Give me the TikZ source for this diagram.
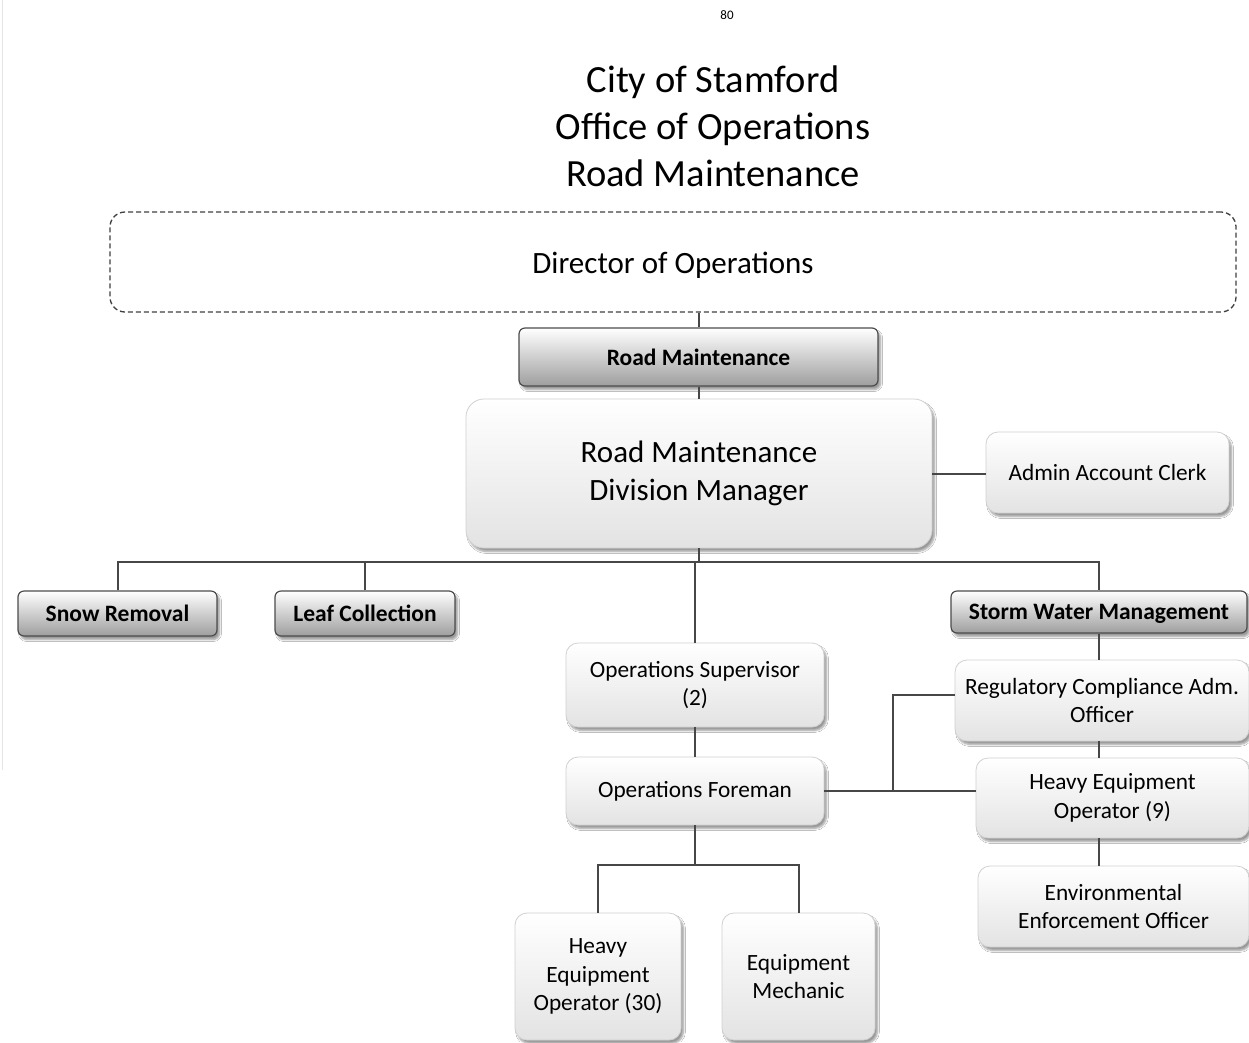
\documentclass[tikz,border=0pt]{standalone}
\usepackage{fontspec}
\setmainfont{Carlito}
\usetikzlibrary{shadows.blur,calc}
\begin{document}
\begin{tikzpicture}[x=1pt,y=-1pt,
  shad/.style={blur shadow={shadow xshift=2.5pt, shadow yshift=-3.5pt, shadow blur steps=6, shadow opacity=40}},
  hdr/.style={shad, draw=black!70, line width=1.2pt, rounded corners=6pt, top color=white, bottom color=black!38, inner sep=0pt, align=center, font=\fontsize{23.5}{28}\selectfont\bfseries},
  box/.style={shad, draw=black!18, line width=0.8pt, rounded corners=12pt, top color=white, bottom color=black!11, inner sep=0pt, align=center, font=\fontsize{23.3}{28.5}\selectfont},
  ln/.style={draw=black!72, line width=2pt}]
\useasboundingbox[fill=white] (0,0) rectangle (1249,1042);
\draw[draw=blue!8!black!10, line width=1pt] (2,0) -- (2,770);

\node (pg) at (727,15) {\fontsize{13}{15}\selectfont 80};
\node[align=center, font=\fontsize{38.5}{47}\selectfont] (title) at (713,126) {City of Stamford\\Office of Operations\\Road Maintenance};

\node[draw=black!75, dashed, dash pattern=on 5pt off 3pt, line width=1.3pt, rounded corners=15pt, minimum width=1126pt, minimum height=100pt] (dir) at (673,262) {};
\node[font=\fontsize{31}{37}\selectfont] (dirt) at (673,265) {Director of Operations};

\node[hdr, minimum width=359pt, minimum height=58pt] (rm) at (698.5,357) {Road Maintenance};
\node[box, rounded corners=18pt, minimum width=466pt, minimum height=149pt, font=\fontsize{31}{38}\selectfont] (dm) at (699,473.5) {Road Maintenance\\Division Manager};
\node[box, minimum width=243pt, minimum height=81pt] (clerk) at (1107.5,472.5) {Admin Account Clerk};

\node[hdr, minimum width=199pt, minimum height=45pt] (snow) at (117.5,613.5) {Snow Removal};
\node[hdr, minimum width=180pt, minimum height=45pt] (leaf) at (365,613.5) {Leaf Collection};
\node[hdr, minimum width=296pt, minimum height=42pt, text depth=0pt] (swm) at (1099,612) {Storm Water Management};

\node[box, minimum width=258pt, minimum height=84pt] (sup) at (695,685) {Operations Supervisor\\(2)};
\node[box, minimum width=258pt, minimum height=68pt] (fore) at (695,791) {Operations Foreman};

\node[box, minimum width=294pt, minimum height=81pt] (rc) at (1102,700.5) {Regulatory Compliance Adm.\\Officer};
\node[box, minimum width=273pt, minimum height=80pt] (heo9) at (1112.5,798) {Heavy Equipment\\Operator (9)};
\node[box, minimum width=271pt, minimum height=81pt] (eeo) at (1113.5,906.5) {Environmental\\Enforcement Officer};

\node[box, minimum width=166pt, minimum height=127pt] (heo30) at (598,976.5) {Heavy\\Equipment\\Operator (30)};
\node[box, minimum width=153pt, minimum height=127pt] (mech) at (798.5,976.5) {Equipment\\Mechanic};

\coordinate (busy) at (0,562);
\coordinate (br) at (893,0);
\coordinate (fy) at (0,865);

\draw[ln] (rm.north |- dir.south) -- (rm.north);
\draw[ln] (rm.south) -- (rm.south |- dm.north);
\draw[ln] (dm.east) -- (dm.east -| clerk.west);
\draw[ln] (dm.south) -- (dm.south |- busy);
\draw[ln] (snow.north) -- (snow.north |- busy) -- (swm.north |- busy) -- (swm.north);
\draw[ln] (leaf.north) -- (leaf.north |- busy);
\draw[ln] (sup.north) -- (sup.north |- busy);
\draw[ln] (sup.south) -- (fore.north);
\draw[ln] (swm.south) -- (swm.south |- rc.north);
\draw[ln] (swm.south |- rc.south) -- (swm.south |- heo9.north);
\draw[ln] (swm.south |- heo9.south) -- (swm.south |- eeo.north);
\draw[ln] (fore.east) -- (fore.east -| heo9.west);
\draw[ln] (fore.east -| br) -- ($(br |- rc.west)+(0,-6)$) -- ($(rc.west)+(0,-6)$);
\draw[ln] (fore.south) -- (fore.south |- fy);
\draw[ln] (heo30.north) -- (heo30.north |- fy) -- (mech.north |- fy) -- (mech.north);
\end{tikzpicture}
\end{document}
